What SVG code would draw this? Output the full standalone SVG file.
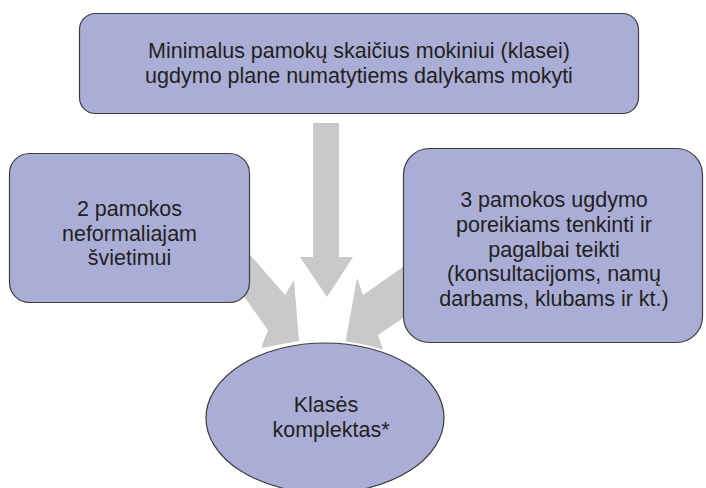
<svg xmlns="http://www.w3.org/2000/svg" width="706" height="488" viewBox="0 0 706 488">
<style>
.box{fill:#AAAED6;stroke:#3C3C3C;stroke-width:1.2}
.arr{fill:#C8C9CB;stroke:none}
.t{font-family:"Liberation Sans",Arial,sans-serif;font-size:21.5px;fill:#231F20;text-anchor:middle}
</style>
<rect width="706" height="488" fill="#FFFFFF"/>
<g id="connectors">
<polygon class="arr" points="313,123 339,123 339,257 353,257 327,297 300,257 313,257"/>
<polygon class="arr" points="225,226 285,295 294,280 299,341 261,348 268,330 225,270"/>
<polygon class="arr" points="430,248 363,295 357,278 345,345 385,356 378,335 430,300"/>
</g>
<g id="node-top">
<rect class="box" x="79.5" y="13.5" width="559" height="100" rx="16" ry="16"/>
<text class="t" x="359" y="58">Minimalus pamokų skaičius mokiniui (klasei)</text>
<text class="t" x="359" y="83">ugdymo plane numatytiems dalykams mokyti</text>
</g>
<g id="node-left">
<rect class="box" x="9.5" y="153.5" width="240" height="149" rx="20" ry="20"/>
<text class="t" x="129.5" y="216">2 pamokos</text>
<text class="t" x="129.5" y="240.5">neformaliajam</text>
<text class="t" x="129.5" y="265">švietimui</text>
</g>
<g id="node-right">
<rect class="box" x="403.5" y="148.5" width="299" height="194" rx="26" ry="26"/>
<text class="t" x="554" y="207">3 pamokos ugdymo</text>
<text class="t" x="554" y="232">poreikiams tenkinti ir</text>
<text class="t" x="554" y="256.5">pagalbai teikti</text>
<text class="t" x="554" y="281">(konsultacijoms, namų</text>
<text class="t" x="554" y="305.5">darbams, klubams ir kt.)</text>
</g>
<g id="node-bottom">
<ellipse cx="325" cy="418" rx="119" ry="75" fill="none" stroke="#FFFFFF" stroke-width="5"/>
<ellipse class="box" cx="325" cy="418" rx="119" ry="75"/>
<text class="t" x="326" y="412">Klasės</text>
<text class="t" x="331" y="437">komplektas*</text>
</g>
</svg>
